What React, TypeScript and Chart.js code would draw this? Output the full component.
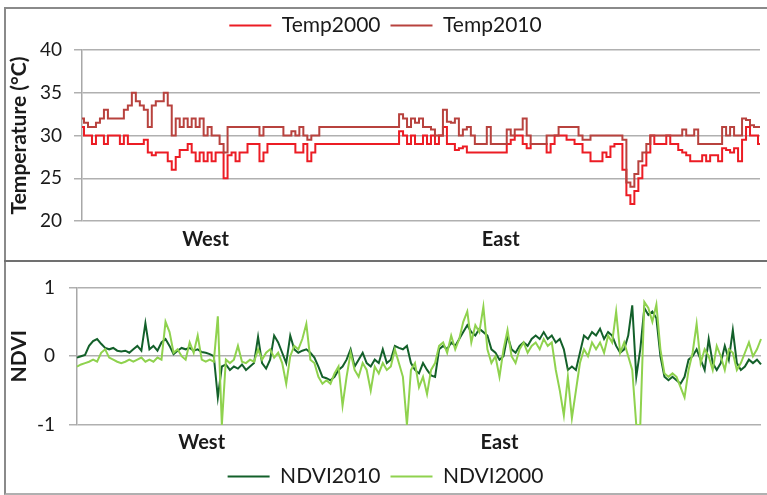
import React, { useEffect, useRef } from 'react';
import { Chart, registerables } from 'chart.js';

Chart.register(...registerables);

const FONT = 'Lato, "Open Sans", "DejaVu Sans", sans-serif';
const TEXT = '#1a1a1a';

const N = 171;
const westIndex = 31;
const eastIndex = 105;
const xLabels: string[] = Array.from({ length: N }, (_, i) =>
  i === westIndex ? 'West' : i === eastIndex ? 'East' : ''
);

const tempTicks = [20, 25, 30, 35, 40];
const ndviTicks = [-1, 0, 1];

const temp2000 = [
  31, 30, 30, 29, 30, 30, 29, 30, 30, 30, 29, 30, 29, 29, 29, 29, 29.5,
  28, 27.7, 28, 28, 28, 27, 26, 27.5, 28.3, 28.3, 29, 28, 27, 28, 27, 28, 27, 28, 28, 25,
  27.7, 28, 27, 28, 28, 29, 29, 29, 27, 28, 29,
  29, 29, 29, 29, 29, 29,
  28, 28, 29, 27, 28, 29,
  29, 29, 29, 29, 29, 29, 29, 29, 29, 29, 29, 29, 29, 29, 29, 29, 29, 29, 29, 29,
  30.5, 30, 29, 30, 29, 29, 30, 29, 30, 29, 30, 31, 29, 29,
  28.3, 28.5, 28.7, 28, 28, 28, 28, 28, 28, 28, 28, 28, 28,
  29, 29.5, 30, 30, 29, 28.5, 29, 29, 29, 29, 28, 29, 30, 30, 30, 29.5, 29.5, 29, 29,
  28, 28, 27, 27, 27, 28, 27.5, 28.7, 29, 29,
  26, 23, 22, 23.5, 25, 26.5, 28, 30,
  29, 29, 29, 30, 29, 29, 28.3, 28, 27.7, 27, 27, 27,
  27.7, 27, 27.7, 27.7, 27, 28.5, 28.3, 28, 28.5, 27, 29.5, 31, 30, 30, 29,
];

const temp2010 = [
  32, 31.5, 31, 31, 31.5, 32, 33, 32, 32, 32, 32,
  33, 33.5, 35, 34, 33.5, 33, 31, 33.5, 34, 34, 35, 33.5,
  30, 32, 31, 32, 31, 32, 31, 32, 30, 31, 30, 30, 29, 28,
  31, 31, 31, 31, 31, 31, 31, 31,
  30,
  31, 31, 31, 31, 31,
  30, 30, 30.5, 30,
  31, 30, 29.5, 30, 30,
  31, 31, 31, 31, 31, 31, 31, 31, 31, 31, 31, 31, 31, 31, 31, 31, 31, 31, 31, 31,
  32.5, 32, 31, 32, 31.5, 32, 31, 31, 30.7, 30, 30,
  33, 31.6, 31.5, 32, 30, 30.7, 31, 30, 29, 29, 29,
  31, 29, 29, 29, 29, 30.7, 30, 30.7, 30.7,
  32, 30, 29, 29, 29, 29, 30, 30, 30,
  31, 31, 31, 31, 31,
  30, 29.5, 29.5, 30,
  30, 30, 30, 30, 30, 30, 30,
  29.5, 24.5, 24, 25.5, 27, 28, 29, 30,
  30, 30, 30, 30, 30, 30, 30,
  30.7, 30, 30, 30.7,
  29, 29, 29, 29, 29, 29,
  31, 30, 31, 30, 30, 32, 31.8, 31.2, 31, 31,
];

const ndvi2010 = [
  -0.02, 0.0, 0.02, 0.15, 0.22, 0.25, 0.18, 0.12, 0.1, 0.12,
  0.08, 0.07, 0.08, 0.05, 0.1, 0.15, 0.08, 0.48, 0.1, 0.15,
  0.08, 0.2, 0.25, 0.15, 0.03, 0.08, 0.12, 0.1, 0.12, 0.08,
  0.1, 0.06, 0.05, 0.03, 0.0, -0.6, -0.15, -0.12, -0.2, -0.15,
  -0.18, -0.12, -0.2, -0.15, -0.1, 0.28, -0.1, -0.18, -0.05, 0.3,
  0.2, 0.05, -0.1, 0.3, 0.1, 0.05, 0.08, 0.1, 0.05, -0.02,
  -0.15, -0.3, -0.32, -0.35, -0.3, -0.2, -0.15, -0.05, 0.1, -0.15,
  -0.05, 0.05, -0.1, -0.15, -0.05, -0.1, 0.1, -0.1, -0.05, 0.15,
  0.12, 0.1, 0.15, -0.1, -0.2, -0.25, -0.1, -0.2, -0.28, -0.3,
  0.1, 0.15, 0.1, 0.2, 0.15, 0.25, 0.35, 0.45, 0.35, 0.3,
  0.4, 0.35, 0.3, 0.1, 0.05, -0.05, 0.0, 0.3, 0.1, 0.05,
  0.15, 0.2, 0.15, 0.25, 0.3, 0.25, 0.35, 0.25, 0.3, 0.2,
  0.25, 0.1, -0.2, -0.15, -0.2, 0.05, 0.3, 0.25, 0.35, 0.3,
  0.4, 0.25, 0.35, 0.3, 0.15, 0.05, 0.1, 0.3, 0.74, -0.3,
  0.1, 0.7, 0.6, 0.65, 0.55, 0.0, -0.3, -0.35, -0.3, -0.35,
  -0.4, -0.3, -0.05, 0.0, 0.1, -0.05, -0.2, 0.25, -0.1, -0.2,
  -0.1, 0.15, -0.05, 0.38, -0.1, -0.2, -0.15, -0.05, -0.1, -0.05, -0.12,
];

const ndvi2000 = [
  -0.15, -0.12, -0.1, -0.08, -0.05, -0.08, 0.05, 0.1, -0.02, -0.05,
  -0.08, -0.1, -0.08, -0.05, -0.08, -0.05, -0.02, -0.08, -0.05, -0.08,
  -0.02, -0.05, 0.5, 0.35, 0.05, 0.1, 0.0, -0.05, 0.2, 0.05,
  0.3, -0.05, -0.08, -0.05, -0.08, 0.58, -1.0, -0.05, -0.1, -0.05,
  0.15, -0.08, -0.1, -0.05, -0.08, 0.1, -0.05, 0.05, 0.1, -0.02,
  0.05, -0.1, -0.4, 0.0, 0.15, 0.1, 0.25, 0.47, -0.05, -0.1,
  -0.3, -0.4, -0.35, -0.4, -0.25, -0.15, -0.72, -0.3, 0.05, -0.2,
  -0.3, -0.1, -0.2, -0.5, -0.15, -0.25, -0.1, -0.2, -0.15, 0.1,
  -0.1, -0.3, -1.0, -0.2, -0.1, -0.45, -0.3, -0.55, -0.2, -0.1,
  0.15, 0.2, 0.05, 0.3, 0.1, 0.25, 0.5, 0.65, 0.2, 0.45,
  0.35, 0.72, 0.1, -0.1, 0.0, -0.3, 0.1, 0.38, 0.0, -0.1,
  0.1, 0.2, 0.05, 0.15, 0.2, 0.1, 0.25, 0.15, 0.2, -0.2,
  -0.5, -0.86, -0.3, -0.9, -0.5, -0.1, 0.1, 0.0, 0.2, 0.1,
  0.2, 0.05, 0.3, 0.2, 0.65, 0.05, 0.2, 0.0, -0.2, -1.0,
  -1.0, 0.79, 0.7, 0.5, 0.75, 0.1, -0.25, -0.3, -0.25, -0.3,
  -0.45, -0.6, -0.2, 0.05, 0.47, -0.1, 0.1, 0.0, -0.2, 0.15,
  0.0, -0.2, 0.1, 0.05, -0.2, -0.1, 0.05, 0.2, 0.0, 0.1, 0.25,
];

const legendSpacer = (extra: number) => ({
  id: 'legendSpacer',
  beforeLayout(chart: any) {
    const lg = chart.legend;
    if (lg && !lg.__spaced) {
      const orig = lg.fit.bind(lg);
      lg.fit = function () {
        orig();
        lg.height += extra;
      };
      lg.__spaced = true;
    }
  },
});

function legendOpts(position: 'top' | 'bottom') {
  return {
    display: true,
    position,
    labels: {
      usePointStyle: true,
      pointStyle: 'line',
      pointStyleWidth: 42,
      color: TEXT,
      padding: 10,
      font: { family: FONT, size: 21 },
      sort: (a: any, b: any) => a.datasetIndex - b.datasetIndex,
    },
  };
}

function yAxis(min: number, max: number, ticks: number[], title: string, width: number, pad: number) {
  return {
    type: 'linear',
    min,
    max,
    afterBuildTicks: (s: any) => {
      s.ticks = ticks.map((v) => ({ value: v }));
    },
    ticks: {
      padding: pad,
      color: TEXT,
      font: { family: FONT, size: 19 },
    },
    grid: { color: '#b0b0b0', lineWidth: 1.5, tickLength: 8, drawTicks: true },
    border: { display: true, color: '#a8a8a8', width: 1.5 },
    title: {
      display: true,
      text: title,
      color: TEXT,
      font: { family: FONT, size: 21, weight: 'bold' },
      padding: { top: 1, bottom: 0 },
    },
    afterFit: (s: any) => {
      s.width = width;
    },
  };
}

function xAxis(height: number, pad: number) {
  return {
    type: 'category',
    grid: { display: false, drawTicks: false },
    border: { display: false },
    ticks: {
      autoSkip: false,
      maxRotation: 0,
      minRotation: 0,
      padding: pad,
      color: TEXT,
      font: { family: FONT, size: 20, weight: 'bold' },
    },
    afterFit: (s: any) => {
      s.height = height;
    },
  };
}

export default function App() {
  const topRef = useRef<HTMLCanvasElement>(null);
  const botRef = useRef<HTMLCanvasElement>(null);

  useEffect(() => {
    const top = new Chart(topRef.current as HTMLCanvasElement, {
      type: 'line',
      data: {
        labels: xLabels,
        datasets: [
          { label: 'Temp2000', data: temp2000, borderColor: '#ec1c24', backgroundColor: '#ec1c24', borderWidth: 2, pointRadius: 0, stepped: 'middle', order: 1 },
          { label: 'Temp2010', data: temp2010, borderColor: '#b8423e', backgroundColor: '#b8423e', borderWidth: 2, pointRadius: 0, stepped: 'middle', order: 0 },
        ],
      },
      options: {
        responsive: false,
        animation: false,
        events: [],
        layout: { padding: { left: 0, right: 2, top: -4, bottom: 0 } },
        plugins: { legend: legendOpts('top') as any, tooltip: { enabled: false } },
        scales: {
          x: xAxis(39, 7) as any,
          y: yAxis(20, 40, tempTicks, 'Temperature (°C)', 76, 12) as any,
        },
      },
      plugins: [legendSpacer(4)],
    });

    const bot = new Chart(botRef.current as HTMLCanvasElement, {
      type: 'line',
      data: {
        labels: xLabels,
        datasets: [
          { label: 'NDVI2010', data: ndvi2010, borderColor: '#13602a', backgroundColor: '#13602a', borderWidth: 2, pointRadius: 0, tension: 0, order: 1 },
          { label: 'NDVI2000', data: ndvi2000, borderColor: '#8fd24e', backgroundColor: '#8fd24e', borderWidth: 2, pointRadius: 0, tension: 0, order: 0 },
        ],
      },
      options: {
        responsive: false,
        animation: false,
        events: [],
        layout: { padding: { left: 0, right: 2, top: 18, bottom: -4 } },
        plugins: { legend: legendOpts('bottom') as any, tooltip: { enabled: false } },
        scales: {
          x: xAxis(31, 6) as any,
          y: yAxis(-1, 1, ndviTicks, 'NDVI', 71, 14) as any,
        },
      },
    });

    return () => {
      top.destroy();
      bot.destroy();
    };
  }, []);

  return (
    <div style={{ position: 'fixed', left: 0, top: 0, width: 767, height: 495, background: '#fff', overflow: 'hidden' }}>
      <div
        style={{
          position: 'absolute',
          left: 4,
          top: 7,
          width: 780,
          height: 484,
          borderLeft: '2px solid #8a8a8a',
          borderTop: '2px solid #8a8a8a',
          borderBottom: '2px solid #b0b0b0',
        }}
      />
      <div style={{ position: 'absolute', left: 4, top: 260, width: 780, height: 2, background: '#707070' }} />
      <canvas ref={topRef} width={761} height={251} style={{ position: 'absolute', left: 6, top: 9, width: 761, height: 251 }} />
      <canvas ref={botRef} width={761} height={231} style={{ position: 'absolute', left: 6, top: 262, width: 761, height: 231 }} />
    </div>
  );
}
